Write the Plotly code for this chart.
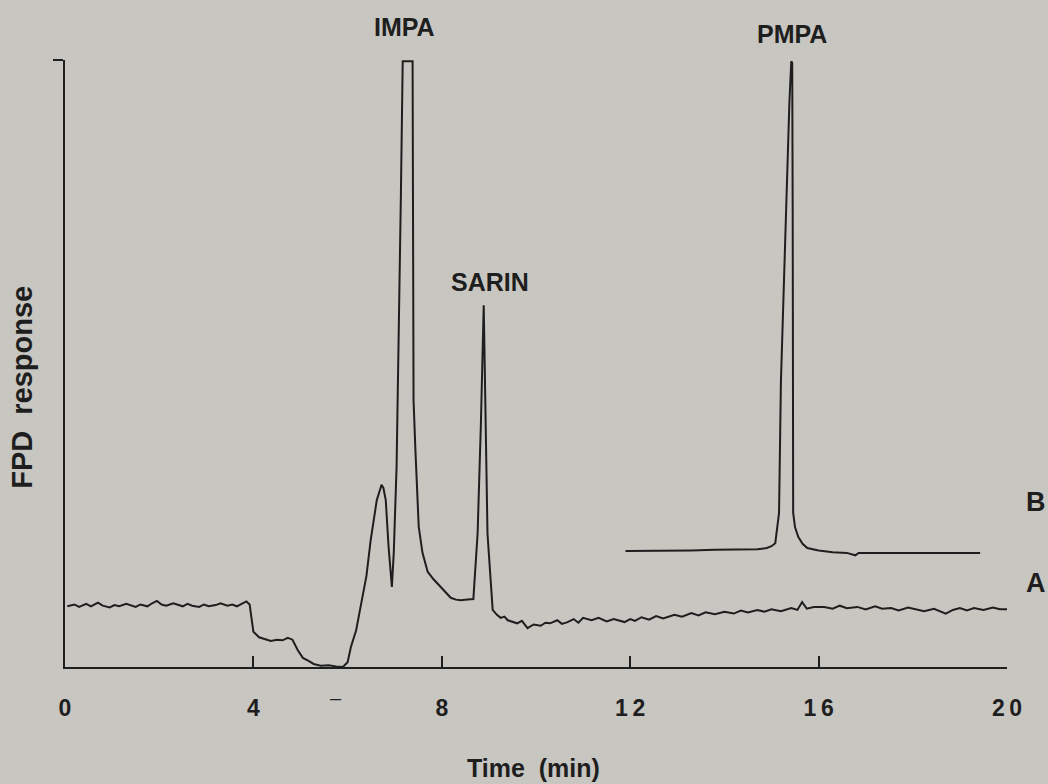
import plotly.graph_objects as go

# ---- Trace A (sample spiked with sarin) ----
time_a = [0.05, 0.2, 0.3, 0.45, 0.55, 0.7, 0.8, 0.95, 1.05, 1.15, 1.3, 1.4, 1.5, 1.6, 1.75,
          1.85, 1.95, 2.05, 2.15, 2.3, 2.4, 2.5, 2.6, 2.7, 2.85, 2.95, 3.05, 3.2, 3.3, 3.45,
          3.55, 3.65, 3.75, 3.85, 3.92, 4.0, 4.12, 4.25, 4.37, 4.5, 4.62, 4.73, 4.83, 4.94,
          5.05, 5.17, 5.28, 5.43, 5.6, 5.75, 5.9, 6.0, 6.07, 6.18, 6.28, 6.4, 6.49, 6.56, 6.62,
          6.68, 6.72, 6.76, 6.81, 6.87, 6.94, 6.98, 7.04, 7.13, 7.17, 7.38, 7.40, 7.44, 7.51,
          7.59, 7.70, 7.82, 7.97, 8.08, 8.19, 8.30, 8.40, 8.55, 8.67, 8.76, 8.83, 8.89, 8.93,
          8.97, 9.08, 9.17, 9.25, 9.33, 9.40, 9.50, 9.60, 9.70, 9.82, 9.95, 10.1, 10.2, 10.3,
          10.45, 10.55, 10.67, 10.8, 10.9, 11.0, 11.18, 11.33, 11.5, 11.65, 11.88, 12.0, 12.1,
          12.24, 12.4, 12.55, 12.7, 12.94, 13.1, 13.3, 13.45, 13.6, 13.8, 14.0, 14.2, 14.35,
          14.5, 14.7, 14.85, 15.0, 15.2, 15.42, 15.55, 15.65, 15.75, 15.9, 16.12, 16.3, 16.45,
          16.6, 16.82, 17.0, 17.2, 17.35, 17.54, 17.7, 17.9, 18.05, 18.24, 18.45, 18.6, 18.7,
          18.85, 19.0, 19.15, 19.3, 19.5, 19.7, 19.85, 20.0]
resp_a = [10.0, 10.3, 9.9, 10.4, 10.0, 10.6, 10.1, 9.8, 10.2, 10.0, 10.4, 10.1, 9.9, 10.3, 10.0,
          10.5, 10.9, 10.3, 10.1, 10.5, 10.2, 10.0, 10.4, 10.1, 9.9, 10.3, 10.0, 10.2, 10.5, 10.1,
          10.3, 10.0, 10.4, 10.8, 10.3, 5.8, 4.9, 4.6, 4.3, 4.5, 4.4, 4.8, 4.5, 2.8,
          1.5, 1.0, 0.5, 0.2, 0.3, 0.1, 0.0, 0.8, 3.3, 6.0, 9.9, 15.0, 20.9, 24.5, 27.5,
          29.0, 30.0, 29.5, 27.5, 19.8, 13.2, 18.8, 33.0, 77.0, 99.8, 99.8, 44.0, 35.7, 23.1,
          18.8, 15.7, 14.5, 13.2, 12.3, 11.4, 11.1, 11.0, 11.1, 11.2, 22.0, 40.0, 59.6, 40.0,
          22.0, 9.4, 8.6, 8.1, 8.3, 7.7, 7.4, 7.2, 7.6, 6.4, 7.0, 6.8, 7.3, 7.2,
          7.7, 7.1, 7.4, 7.9, 7.3, 8.1, 7.7, 8.1, 7.5, 7.9, 7.4, 7.9, 7.6,
          8.2, 7.8, 8.4, 8.0, 8.6, 8.3, 8.9, 8.5, 9.0, 8.7, 9.1, 8.8, 9.3,
          9.0, 9.4, 9.1, 9.5, 9.2, 9.7, 9.4, 10.7, 9.6, 9.9, 9.9, 9.6, 10.1,
          9.7, 9.9, 9.5, 10.0, 9.6, 9.7, 9.3, 9.8, 9.5, 9.2, 9.6, 9.1, 8.8,
          9.4, 9.7, 9.3, 9.7, 9.4, 9.8, 9.5, 9.5]

# ---- Trace B (hydrolysis product PMPA) ----
time_b = [11.9, 12.3, 12.8, 13.3, 13.8, 14.3, 14.7, 14.9, 15.0, 15.08, 15.16, 15.2, 15.3, 15.38,
          15.42, 15.44, 15.45, 15.46, 15.5, 15.57, 15.66, 15.76, 16.0, 16.3, 16.6, 16.78,
          16.85, 17.0, 17.5, 18.0, 18.5, 19.0, 19.43]
resp_b = [19.1, 19.1, 19.2, 19.2, 19.3, 19.3, 19.4, 19.6, 19.9, 20.4, 25.4, 47.0, 75.0, 93.0,
          99.8, 99.5, 75.0, 25.4, 23.0, 21.4, 20.3, 19.6, 19.2, 18.9, 18.8, 18.4,
          18.8, 18.8, 18.8, 18.8, 18.7, 18.8, 18.8]

x_ticks = [0, 4, 8, 12, 16, 20]
x_tick_text = ["0", "4", "8", "1\u20092", "1\u20096", "2\u20090"]

peak_labels = ["IMPA", "SARIN", "PMPA"]
peak_label_x = [7.2, 9.02, 15.43]
peak_label_y = [1.054, 0.634, 1.043]   # paper fraction of plot height

trace_labels = ["B", "A"]
trace_label_y = [0.272, 0.138]          # paper fraction of plot height

INK = "#1e1e1e"
PAPER = "#c8c6c1"
FONT = "Liberation Sans"

fig = go.Figure()
fig.add_trace(go.Scatter(x=time_a, y=resp_a, mode="lines", name="A",
                         line=dict(color=INK, width=2), cliponaxis=False))
fig.add_trace(go.Scatter(x=time_b, y=resp_b, mode="lines", name="B",
                         line=dict(color=INK, width=2), cliponaxis=False))

C = dict(showarrow=False, xanchor="center", yanchor="middle")
annotations = []
for t, x, y in zip(peak_labels, peak_label_x, peak_label_y):
    annotations.append(dict(x=x, y=y, xref="x", yref="paper", text=t, **C,
                            font=dict(family=FONT, size=25, color=INK, weight="bold")))
for t, y in zip(trace_labels, trace_label_y):
    annotations.append(dict(x=1.031, y=y, xref="paper", yref="paper", text=t, **C,
                            font=dict(family=FONT, size=27, color=INK, weight="bold")))
annotations.append(dict(x=9.94, y=-0.166, xref="x", yref="paper",
                        text="Time\u00a0\u00a0(min)", **C,
                        font=dict(family=FONT, size=25, color=INK, weight="bold")))
annotations.append(dict(x=-0.0456, y=0.46, xref="paper", yref="paper",
                        text="FPD\u00a0\u00a0response", textangle=-90, **C,
                        font=dict(family=FONT, size=29, color=INK, weight="bold")))
annotations.append(dict(x=5.75, y=-0.051, xref="x", yref="paper", text="\u2013", **C,
                        font=dict(family=FONT, size=20, color=INK)))

fig.update_layout(
    width=1048, height=784,
    margin=dict(l=65, r=41, t=60, b=117),
    paper_bgcolor=PAPER, plot_bgcolor=PAPER,
    showlegend=False,
    annotations=annotations,
    xaxis=dict(range=[0, 20], showgrid=False, zeroline=False, showline=True,
               linecolor=INK, linewidth=2, ticks="inside", tickvals=x_ticks,
               ticktext=x_tick_text, ticklen=11, tickwidth=2, tickcolor=INK,
               ticklabelstandoff=19,
               tickfont=dict(family=FONT, size=23, color=INK, weight="bold")),
    yaxis=dict(range=[0, 100], showgrid=False, zeroline=False, showline=True,
               linecolor=INK, linewidth=2, ticks="outside", tickvals=[100],
               ticklen=10, tickwidth=2, tickcolor=INK, showticklabels=False),
)

fig.write_html(
    "out.html",
    config={"displayModeBar": False},
    post_script="document.body.style.margin='0';document.body.style.background='%s';" % PAPER,
)
